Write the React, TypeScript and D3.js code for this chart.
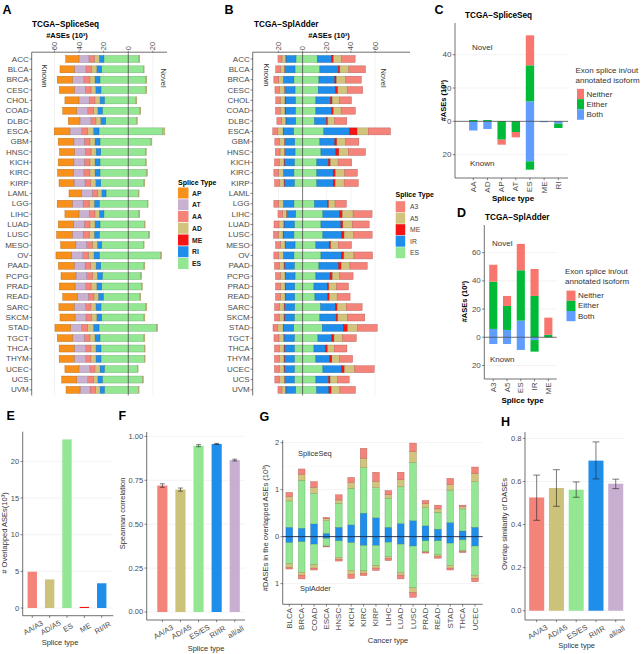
import React, { useEffect, useRef } from "react";
import * as d3 from "d3";

const FONT = "'Liberation Sans', Arial, Helvetica, sans-serif";
const TICK = "#4d4d4d";
const GRID = "#ebebeb";

// ---------- A / B : per cancer type, #ASEs (10^3) ----------
const cancers = ["ACC", "BLCA", "BRCA", "CESC", "CHOL", "COAD", "DLBC", "ESCA", "GBM", "HNSC", "KICH", "KIRC", "KIRP", "LAML", "LGG", "LIHC", "LUAD", "LUSC", "MESO", "OV", "PAAD", "PCPG", "PRAD", "READ", "SARC", "SKCM", "STAD", "TGCT", "THCA", "THYM", "UCEC", "UCS", "UVM"];

// SpliceSeq, known (left)
const aAP = [10.8, 11.6, 12.5, 12.2, 11.4, 11.4, 9.5, 12.8, 12.8, 12.2, 12.8, 12.7, 12.2, 10.3, 12.2, 11.4, 12.2, 12.7, 12.4, 12.8, 12.8, 12.2, 12.8, 12.2, 12.4, 12.2, 12.8, 12.5, 12.2, 12.2, 11.4, 12.2, 11.4];
const aAT = [8.1, 9.5, 9.2, 8.9, 8.4, 8.9, 8.9, 9.5, 8.4, 8.9, 8.4, 8.7, 8.9, 8.6, 8.9, 8.4, 8.9, 8.9, 8.7, 8.9, 8.9, 8.7, 8.7, 8.6, 9.3, 8.9, 8.9, 9.4, 9.3, 9.3, 8.9, 8.9, 8.1];
const aAA = [4.3, 4.6, 4.9, 4.6, 4.6, 4.6, 4.1, 4.9, 4.6, 4.6, 4.6, 4.9, 4.6, 4.1, 4.9, 4.6, 4.6, 4.9, 4.6, 4.6, 4.6, 4.9, 4.3, 4.6, 4.3, 4.6, 4.9, 4.6, 4.3, 4.3, 4.1, 4.6, 4.6];
const aAD = [4.1, 4.1, 4.1, 3.8, 4.1, 3.6, 3.8, 4.6, 4.1, 4.1, 4.1, 4.1, 4.1, 3.6, 4.1, 3.5, 4.1, 4.1, 4.1, 4.6, 4.3, 3.7, 4.6, 3.5, 4.1, 4.1, 4.6, 4.1, 4.1, 4.1, 4.1, 3.6, 3.5];
const aRI = [3.8, 4.1, 4.1, 4.3, 3.5, 3.7, 4.1, 4.6, 4.1, 3.8, 4.1, 4.1, 4.1, 3.5, 4.1, 3.8, 4.1, 4.1, 3.6, 4.3, 3.8, 4.1, 4.1, 4.1, 4.1, 4.1, 4.6, 4.1, 4.1, 4.1, 3.5, 3.7, 3.5];
const aESknown = [19.8, 21.6, 23, 22.2, 19.5, 21.1, 18.4, 23.8, 23, 22.4, 23, 23, 22.4, 18.1, 23.6, 19.8, 23, 23.6, 21.6, 23.6, 22.4, 21.1, 21.6, 20.3, 22.2, 21.6, 23.8, 23, 22.2, 22.2, 19.5, 21.1, 19.5];
// SpliceSeq, novel (right)
const aESnovel = [8.7, 12.2, 14.4, 14.4, 6.3, 9.5, 6.8, 28.2, 18.5, 14.1, 14.1, 15, 12.8, 8.1, 15.4, 8.7, 13, 16.8, 12.2, 26.3, 12.8, 10.3, 10.9, 9.5, 14.4, 12.8, 23.1, 12.8, 13, 13, 7.3, 11.7, 8.1];
const aOtherNovel = [0.7, 0.7, 0.7, 0.7, 0.7, 0.7, 0.7, 1.6, 0.7, 0.7, 0.7, 0.7, 0.7, 0.7, 0.7, 0.7, 0.7, 0.7, 0.7, 0.9, 0.7, 0.7, 0.7, 0.7, 0.7, 0.7, 0.9, 0.7, 0.7, 0.7, 0.7, 0.7, 0.7];

// SplAdder, known (left)
const bA3known = [3.3, 3.9, 3.9, 3.9, 3.6, 3.9, 3.6, 4.1, 3.9, 3.9, 3.9, 3.9, 4.1, 0, 3.9, 3.9, 4.1, 3.9, 3.9, 3.9, 3.9, 3.9, 3.9, 3.9, 3.9, 3.9, 3.9, 4.1, 3.9, 3.9, 3.9, 3.9, 3.3];
const bA5known = [3.0, 3.3, 3.9, 3.9, 3.9, 3.9, 3.6, 4.4, 3.9, 3.6, 3.9, 3.9, 3.6, 0, 3.9, 3.0, 3.9, 3.9, 3.9, 3.9, 3.9, 3.9, 3.9, 3.9, 3.9, 3.9, 4.4, 3.9, 3.9, 3.9, 3.9, 3.9, 2.8];
const bMEknown = [0.3, 0.3, 0.3, 0.3, 0.3, 0.3, 0.3, 0.3, 0.3, 0.3, 0.3, 0.3, 0.3, 0, 0.3, 0.3, 0.3, 0.3, 0.3, 0.3, 0.3, 0.3, 0.3, 0.3, 0.3, 0.3, 0.3, 0.3, 0.3, 0.3, 0.3, 0.3, 0.5];
const bIRknown = [8.3, 8.5, 8.5, 8.5, 8.3, 8.3, 8.0, 8.5, 8.3, 8.5, 8.3, 8.5, 8.3, 0, 8.5, 7.4, 8.5, 8.8, 8.0, 8.5, 8.3, 8.0, 7.7, 7.7, 8.5, 8.3, 8.5, 8.5, 8.3, 8.3, 8.3, 8.0, 8.0];
const bESknown = [5.5, 6.3, 7.2, 6.3, 6.1, 6.1, 5.8, 7.4, 6.6, 6.3, 6.9, 7.2, 6.9, 0, 7.2, 5.8, 6.9, 7.2, 6.3, 7.2, 6.9, 6.3, 6.6, 6.6, 6.6, 6.9, 7.4, 6.9, 6.9, 6.9, 6.9, 6.9, 5.8];
// SplAdder, novel (right)
const bESnovel = [12.1, 14.3, 13.5, 12.9, 11.0, 11.0, 9.9, 17.6, 14.3, 15.2, 11.8, 11.8, 11.8, 0, 9.9, 16.8, 15.2, 16.8, 11.0, 15.2, 13.5, 11.0, 9.4, 10.2, 14.9, 14.3, 16.3, 12.7, 9.4, 11.0, 16.8, 11.0, 11.6];
const bIRnovel = [12.1, 15.2, 13.2, 14.6, 12.1, 12.9, 9.9, 21.5, 12.4, 12.4, 9.6, 13.5, 13.5, 0, 10.7, 14.0, 16.5, 15.7, 11.0, 16.8, 16.3, 11.8, 11.0, 10.7, 12.1, 13.5, 17.4, 11.6, 9.4, 11.6, 15.7, 10.5, 10.2];
const bMEnovel = [1.4, 1.4, 1.4, 1.7, 1.4, 1.7, 1.1, 6.1, 1.7, 2.5, 1.7, 1.9, 1.7, 0, 1.1, 2.2, 1.7, 1.9, 1.4, 2.2, 2.2, 1.9, 1.4, 1.4, 1.7, 1.4, 3.6, 1.7, 1.9, 1.7, 2.2, 1.4, 1.9];
const bA5novel = [6.6, 7.4, 7.7, 7.7, 5.8, 6.3, 5.5, 9.1, 7.2, 7.7, 6.3, 7.7, 7.4, 0, 5.2, 8.8, 7.7, 8.0, 6.1, 8.3, 7.2, 6.1, 6.3, 6.3, 7.4, 8.0, 8.0, 6.9, 5.5, 6.1, 8.3, 6.1, 7.2];
const bA3novel = [11.3, 13.8, 12.9, 12.9, 10.2, 11.8, 10.2, 18.5, 11.0, 14.3, 11.3, 10.5, 11.8, 0, 9.4, 15.7, 14.0, 15.2, 11.0, 15.4, 14.3, 11.0, 9.9, 10.7, 13.2, 14.3, 16.5, 11.6, 10.5, 11.0, 16.3, 9.6, 12.9];

// ---------- C : SpliceSeq by splice type ----------
const cTypes = ["AA", "AD", "AP", "AT", "ES", "ME", "RI"];
const cNovelBoth = [0, 0, 0, 0, 12, 0, 0];
const cNovelEither = [0.8, 0.8, 0, 0, 21.6, 0, 0];
const cNovelNeither = [0, 0, 0, 0, 18, 0, 0];
const cKnownBoth = [5.5, 4.6, 0, 0, 24, 0.5, 1.4];
const cKnownEither = [0, 0, 11, 6.4, 5, 0, 2.6];
const cKnownNeither = [0, 0, 3, 3.2, 0, 0, 0];

// ---------- D : SplAdder by splice type ----------
const dTypes = ["A3", "A5", "ES", "IR", "ME"];
const dNovelBoth = [5.9, 5.2, 11.8, 0, 0];
const dNovelEither = [33.5, 17, 35.7, 29.3, 1.7];
const dNovelNeither = [12, 7.1, 18.7, 19.1, 12.2];
const dKnownBoth = [4.8, 4.8, 9, 2, 0];
const dKnownEither = [0, 0, 0, 8.2, 0];
const dKnownNeither = [0, 0, 0, 0, 0];

// ---------- E / F / H ----------
const eTypes = ["AA/A3", "AD/A5", "ES", "ME", "RI/IR"];
const eOverlap = [4.95, 3.9, 23, 0.15, 3.37];
const fTypes = ["AA/A3", "AD/A5", "ES/ES", "RI/IR", "all/all"];
const fSpearman = [0.72, 0.697, 0.947, 0.957, 0.865];
const fErr = [0.01, 0.009, 0.006, 0.003, 0.005];
const hSimilarity = [0.526, 0.57, 0.562, 0.697, 0.59];
const hLow = [0.42, 0.485, 0.527, 0.612, 0.567];
const hHigh = [0.63, 0.655, 0.598, 0.784, 0.611];

// ---------- G : DASEs in overlapped ASEs (10^3) ----------
const gCancers = ["BLCA", "BRCA", "COAD", "ESCA", "HNSC", "KICH", "KIRC", "KIRP", "LIHC", "LUAD", "LUSC", "PRAD", "READ", "STAD", "THCA", "UCEC"];
const gSsIR = [0.2, 0.18, 0.27, 0.07, 0.2, 0.25, 0.5, 0.4, 0.2, 0.28, 0.34, 0.23, 0.16, 0.3, 0.12, 0.2];
const gSsES = [0.56, 1.02, 0.65, 0.27, 0.51, 0.78, 0.97, 0.64, 0.62, 0.78, 1.24, 0.39, 0.36, 0.69, 0.47, 0.97];
const gSsA5 = [0.09, 0.13, 0.13, 0.04, 0.07, 0.12, 0.2, 0.14, 0.07, 0.15, 0.23, 0.08, 0.07, 0.12, 0.05, 0.18];
const gSsA3 = [0.09, 0.11, 0.12, 0.03, 0.11, 0.11, 0.21, 0.19, 0.09, 0.16, 0.18, 0.07, 0.08, 0.13, 0.03, 0.13];
const gSaIR = [0.13, 0.11, 0.16, 0.04, 0.09, 0.13, 0.19, 0.19, 0.12, 0.16, 0.2, 0.09, 0.09, 0.14, 0.07, 0.2];
const gSaES = [0.45, 0.65, 0.44, 0.16, 0.35, 0.59, 0.54, 0.43, 0.31, 0.6, 0.89, 0.23, 0.3, 0.48, 0.23, 0.62];
const gSaA5 = [0.08, 0.06, 0.07, 0.01, 0.04, 0.08, 0.05, 0.05, 0.03, 0.06, 0.1, 0.01, 0.04, 0.05, 0.02, 0.07];
const gSaA3 = [0.03, 0.08, 0.04, 0.01, 0.04, 0.09, 0.05, 0.05, 0.05, 0.08, 0.1, 0.02, 0.03, 0.04, 0.02, 0.07];

// colours
const cAP = "#F8901C", cAT = "#C9B1D2", cAA = "#F4837A", cAD = "#D2C47C", cME = "#F41414", cRI = "#1F8DEA", cES = "#93E793";
const cLilac = "#C8AFD1";
const cNeither = "#F8766D", cEither = "#00BA38", cBoth = "#619CFF";

function text(g: any, x: number, y: number, s: string, size: number, o: any = {}) {
  const t = g.append("text").attr("x", x).attr("y", y).text(s)
    .attr("font-size", size)
    .attr("font-family", FONT)
    .attr("text-anchor", o.anchor || "start")
    .attr("font-weight", o.weight || "normal")
    .attr("fill", o.fill || "#000")
    .attr("dominant-baseline", o.baseline || "auto");
  if (o.rotate) t.attr("transform", `rotate(${o.rotate},${x},${y})`);
  return t;
}

function line(g: any, x1: number, y1: number, x2: number, y2: number, c = "#333", w = 0.6) {
  g.append("line").attr("x1", x1).attr("y1", y1).attr("x2", x2).attr("y2", y2).attr("stroke", c).attr("stroke-width", w);
}

function segRect(g: any, x: number, y: number, w: number, h: number, c: string) {
  g.append("rect").attr("x", x).attr("y", y).attr("width", Math.max(w, 0)).attr("height", Math.max(h, 0))
    .attr("fill", c).attr("stroke", d3.color(c)!.darker(0.9).toString()).attr("stroke-width", 0.4);
}

// horizontal stack from zero outward
function hStack(g: any, x: any, yc: number, h: number, segs: [number, string][], dir: number) {
  let acc = 0;
  segs.forEach(([v, c]) => {
    if (v <= 0) return;
    const x0 = x(dir * acc), x1 = x(dir * (acc + v));
    segRect(g, Math.min(x0, x1), yc - h / 2, Math.abs(x1 - x0), h, c);
    acc += v;
  });
}

// vertical stack from zero outward
function vStack(g: any, y: any, x0: number, w: number, segs: [number, string][], dir: number, stroke = true) {
  let acc = 0;
  segs.forEach(([v, c]) => {
    if (v <= 0) return;
    const y0 = y(dir * acc), y1 = y(dir * (acc + v));
    if (stroke) segRect(g, x0, Math.min(y0, y1), w, Math.abs(y1 - y0), c);
    else g.append("rect").attr("x", x0).attr("y", Math.min(y0, y1)).attr("width", w).attr("height", Math.abs(y1 - y0)).attr("fill", c);
    acc += v;
  });
}

function panelLetter(g: any, x: number, y: number, s: string) {
  text(g, x, y, s, 12.5, { weight: "bold" });
}

function drawRows(svg: any, opts: any) {
  const g = svg.append("g");
  const { x, left, right, top, bottom, ticks } = opts;
  const y = d3.scaleBand().domain(cancers).range([53.83, 395.05]);
  ticks.filter((t: number) => t !== 0).forEach((t: number) => line(g, x(t), top, x(t), bottom, GRID, 0.6));
  // axes
  line(g, left, top, left, bottom, "#333", 0.7);
  line(g, left, top, right, top, "#333", 0.7);
  ticks.forEach((t: number) => {
    line(g, x(t), top, x(t), top - 1.5, "#333", 0.6);
    text(g, x(t), top - 2, String(Math.abs(t)), 7.5, { rotate: -90, baseline: "central", fill: TICK });
  });
  cancers.forEach((c, i) => {
    const yc = (y(c) as number) + y.bandwidth() / 2;
    line(g, left - 2.2, yc, left, yc, "#333", 0.6);
    text(g, left - 3, yc, c, 8, { anchor: "end", baseline: "central", fill: TICK });
    opts.row(g, yc, i);
  });
  line(g, x(0), top, x(0), bottom, "#444", 0.7);
  return g;
}

function drawA(svg: any) {
  const x = d3.scaleLinear().domain([-78.5, 31.5]).range([31.7, 167]);
  const g = drawRows(svg, {
    x, left: 31.7, right: 167, top: 52.2, bottom: 395.5, ticks: [-60, -40, -20, 0, 20],
    row: (gg: any, yc: number, i: number) => {
      hStack(gg, x, yc, 7, [[aESknown[i], cES], [aRI[i], cRI], [aAD[i], cAD], [aAA[i], cAA], [aAT[i], cAT], [aAP[i], cAP]], -1);
      hStack(gg, x, yc, 7, [[aESnovel[i], cES], [aOtherNovel[i], cAD]], 1);
    },
  });
  panelLetter(g, 2.5, 13.5, "A");
  text(g, 32, 27, "TCGA\u2212SpliceSeq", 8.2, { weight: "bold" });
  text(g, 67, 37.5, "#ASEs (10\u00B3)", 7.5, { weight: "bold", anchor: "middle" });
  text(g, 41.5, 76, "Known", 7.5, { rotate: 90, anchor: "middle", fill: "#333" });
  text(g, 160.5, 78, "Novel", 7.5, { rotate: 90, anchor: "middle", fill: "#333" });
  // legend
  text(g, 178, 185, "Splice Type", 7, { weight: "bold" });
  const keys: [string, string][] = [["AP", cAP], ["AT", cAT], ["AA", cAA], ["AD", cAD], ["ME", cME], ["RI", cRI], ["ES", cES]];
  keys.forEach(([k, c], i) => {
    const yc = 193 + i * 11.75;
    g.append("rect").attr("x", 178).attr("y", yc - 5.5).attr("width", 10.5).attr("height", 11).attr("fill", c);
    text(g, 192, yc, k, 6.8, { weight: "bold", baseline: "central", fill: "#222" });
  });
}

function drawB(svg: any) {
  const x = d3.scaleLinear().domain([-41.3, 88.9]).range([252.7, 410]);
  const g = drawRows(svg, {
    x, left: 252.7, right: 410, top: 52.2, bottom: 395.5, ticks: [-20, 0, 20, 40, 60],
    row: (gg: any, yc: number, i: number) => {
      hStack(gg, x, yc, 7, [[bESknown[i], cES], [bIRknown[i], cRI], [bMEknown[i], cME], [bA5known[i], cAD], [bA3known[i], cAA]], -1);
      hStack(gg, x, yc, 7, [[bESnovel[i], cES], [bIRnovel[i], cRI], [bMEnovel[i], cME], [bA5novel[i], cAD], [bA3novel[i], cAA]], 1);
    },
  });
  panelLetter(g, 224.5, 14, "B");
  text(g, 254, 27, "TCGA\u2212SplAdder", 8.2, { weight: "bold" });
  text(g, 329, 37.5, "#ASEs (10\u00B3)", 7.5, { weight: "bold", anchor: "middle" });
  text(g, 264, 75, "Known", 7.5, { rotate: 90, anchor: "middle", fill: "#333" });
  text(g, 380.5, 78, "Novel", 7.5, { rotate: 90, anchor: "middle", fill: "#333" });
  text(g, 395.5, 196.5, "Splice Type", 7, { weight: "bold" });
  const keys: [string, string][] = [["A3", cAA], ["A5", cAD], ["ME", cME], ["IR", cRI], ["ES", cES]];
  keys.forEach(([k, c], i) => {
    const yc = 206.7 + i * 11.5;
    g.append("rect").attr("x", 395.7).attr("y", yc - 5.5).attr("width", 9.5).attr("height", 11).attr("fill", c);
    text(g, 410, yc, k, 6.8, { baseline: "central", fill: "#444" });
  });
}

function drawTypePanel(svg: any, o: any) {
  const g = svg.append("g");
  const y = d3.scaleLinear().domain(o.yDomain).range([o.bottom, o.top]);
  const x = d3.scaleBand().domain(o.types).range(o.xRange).paddingInner(0.41).paddingOuter(0.205);
  o.ticks.filter((t: number) => t !== 0).forEach((t: number) => line(g, o.left, y(t), o.right, y(t), GRID, 0.6));
  o.types.forEach((t: string, i: number) => {
    const x0 = x(t) as number;
    vStack(g, y, x0, x.bandwidth(), [[o.nb[i], cBoth], [o.ne[i], cEither], [o.nn[i], cNeither]], 1, false);
    vStack(g, y, x0, x.bandwidth(), [[o.kb[i], cBoth], [o.ke[i], cEither], [o.kn[i], cNeither]], -1, false);
    const cx = x0 + x.bandwidth() / 2;
    line(g, cx, o.bottom, cx, o.bottom + 2.2, "#333", 0.6);
    text(g, cx, o.bottom + 3.5, t, 8, { rotate: -90, anchor: "end", baseline: "central", fill: TICK });
  });
  line(g, o.left, y(0), o.right, y(0), "#333", 0.7);
  line(g, o.left, o.top, o.left, o.bottom, "#333", 0.7);
  line(g, o.left, o.bottom, o.right, o.bottom, "#333", 0.7);
  o.ticks.forEach((t: number) => {
    line(g, o.left - 2.2, y(t), o.left, y(t), "#333", 0.6);
    text(g, o.left - 3.5, y(t), String(Math.abs(t)), 8, { anchor: "end", baseline: "central", fill: TICK });
  });
  text(g, o.ytitle[0], o.ytitle[1], "#ASEs (10\u00B3)", 7.5, { weight: "bold", anchor: "middle", rotate: -90 });
  text(g, o.xtitle[0], o.xtitle[1], "Splice type", 8, { weight: "bold", anchor: "middle" });
  text(g, o.novel[0], o.novel[1], "Novel", 8, { fill: "#333" });
  text(g, o.known[0], o.known[1], "Known", 8, { fill: "#333" });
  text(g, o.title[0], o.title[1], o.titleText, 8.2, { weight: "bold" });
  // legend
  const [lx, ly, step, kw] = o.legend;
  text(g, lx, ly, "Exon splice in/out", 8, { fill: "#333", baseline: "central" });
  text(g, lx, ly + 10, "annotated isoform", 8, { fill: "#333", baseline: "central" });
  const keys: [string, string][] = [["Neither", cNeither], ["Either", cEither], ["Both", cBoth]];
  keys.forEach(([k, c], i) => {
    const yc = ly + 24 + i * step;
    g.append("rect").attr("x", lx + 1.5).attr("y", yc - step / 2).attr("width", kw).attr("height", step).attr("fill", c);
    text(g, lx + kw + 4, yc, k, 8, { baseline: "central", fill: "#333" });
  });
  return g;
}

function drawC(svg: any) {
  const g = drawTypePanel(svg, {
    types: cTypes, yDomain: [-34, 59], top: 23, bottom: 178, left: 455, right: 568, xRange: [466.2, 565.4],
    ticks: [-20, 0, 20, 40], nb: cNovelBoth, ne: cNovelEither, nn: cNovelNeither, kb: cKnownBoth, ke: cKnownEither, kn: cKnownNeither,
    ytitle: [445.5, 100.5], xtitle: [513, 200.5], novel: [472, 49.5], known: [470, 165.5],
    title: [465, 18], titleText: "TCGA\u2212SpliceSeq", legend: [575.5, 70, 10.3, 7],
  });
  panelLetter(g, 434.5, 13.5, "C");
}

function drawD(svg: any) {
  const g = drawTypePanel(svg, {
    types: dTypes, yDomain: [-29.6, 79.6], top: 225, bottom: 379, left: 484.3, right: 556.7, xRange: [486.4, 555.2],
    ticks: [-20, 0, 20, 40, 60], nb: dNovelBoth, ne: dNovelEither, nn: dNovelNeither, kb: dKnownBoth, ke: dKnownEither, kn: dKnownNeither,
    ytitle: [467, 301.5], xtitle: [522.5, 402.5], novel: [492, 245.5], known: [490, 362],
    title: [485, 220], titleText: "TCGA\u2212SplAdder", legend: [565, 271.7, 10.2, 9],
  });
  panelLetter(g, 457, 217, "D");
}

function barAxes(g: any, o: any) {
  const { y, left, right, top, bottom, ticks, fmt } = o;
  ticks.forEach((t: number) => line(g, left, y(t), right, y(t), GRID, 0.6));
  (o.minor || []).forEach((t: number) => line(g, left, y(t), right, y(t), "#f3f3f3", 0.5));
  line(g, left, top, left, bottom, "#333", 0.7);
  line(g, left, bottom, right, bottom, "#333", 0.7);
  ticks.forEach((t: number) => {
    line(g, left - 2.2, y(t), left, y(t), "#333", 0.6);
    text(g, left - 3.5, y(t), fmt(t), 7.5, { anchor: "end", baseline: "central", fill: TICK });
  });
}

function simpleBars(svg: any, o: any) {
  const g = svg.append("g");
  const y = d3.scaleLinear().domain(o.yDomain).range([o.bottom, o.top]);
  const x = d3.scaleBand().domain(o.types).range(o.xRange).paddingInner(o.pad).paddingOuter(o.pad / 2);
  barAxes(g, { y, left: o.left, right: o.right, top: o.top, bottom: o.bottom, ticks: o.ticks, fmt: o.fmt });
  o.types.forEach((t: string, i: number) => {
    const x0 = x(t) as number, cx = x0 + x.bandwidth() / 2;
    g.append("rect").attr("x", x0).attr("y", y(o.values[i])).attr("width", x.bandwidth())
      .attr("height", y(0) - y(o.values[i])).attr("fill", o.colors[i]);
    if (o.lo) {
      const y1 = y(o.lo[i]), y2 = y(o.hi[i]);
      line(g, cx, y1, cx, y2, "#222", 0.6);
      line(g, cx - o.cap, y1, cx + o.cap, y1, "#222", 0.6);
      line(g, cx - o.cap, y2, cx + o.cap, y2, "#222", 0.6);
    }
    line(g, cx, o.bottom, cx, o.bottom + 2.2, "#333", 0.6);
    text(g, cx + 1, o.bottom + 12, t, 7.5, { anchor: "middle", baseline: "central", rotate: -30, fill: TICK });
  });
  text(g, o.ytitle[0], o.ytitle[1], o.ytitleText, 7.5, { anchor: "middle", rotate: -90, fill: "#333" });
  text(g, o.xtitle[0], o.xtitle[1], "Splice type", 7.5, { anchor: "middle", fill: "#333" });
  return g;
}

function drawE(svg: any) {
  const g = simpleBars(svg, {
    types: eTypes, values: eOverlap, colors: [cAA, "#CDC27A", cES, cME, cRI],
    yDomain: [-1.05, 24.05], top: 431.7, bottom: 615.7, left: 22.7, right: 113.3, xRange: [23.6, 110.4], pad: 0.46,
    ticks: [0, 5, 10, 15, 20], fmt: (t: number) => String(t),
    ytitle: [7, 533], ytitleText: "# Overlapped ASEs(10\u00B3)", xtitle: [60, 645],
  });
  panelLetter(g, 6.5, 420, "E");
}

function drawF(svg: any) {
  const g = simpleBars(svg, {
    types: fTypes, values: fSpearman, colors: [cAA, "#CDC27A", cES, cRI, cLilac],
    lo: fSpearman.map((v, i) => v - fErr[i]), hi: fSpearman.map((v, i) => v + fErr[i]), cap: 2.4,
    yDomain: [-0.0456, 1.025], top: 432, bottom: 620, left: 146.7, right: 245, xRange: [153.3, 243.8], pad: 0.44,
    ticks: [0, 0.25, 0.5, 0.75, 1], fmt: (t: number) => t.toFixed(2),
    ytitle: [124.5, 513.5], ytitleText: "Spearman correlation", xtitle: [206, 650.5],
  });
  panelLetter(g, 118.5, 420, "F");
}

function drawH(svg: any) {
  const g = simpleBars(svg, {
    types: fTypes, values: hSimilarity, colors: [cAA, "#CDC27A", cES, cRI, cLilac],
    lo: hLow, hi: hHigh, cap: 3.4,
    yDomain: [-0.043, 0.83], top: 432, bottom: 620, left: 525, right: 625, xRange: [526.8, 625.6], pad: 0.24,
    ticks: [0, 0.2, 0.4, 0.6, 0.8], fmt: (t: number) => t.toFixed(1),
    ytitle: [507, 524], ytitleText: "Overlap similarity of DASEs", xtitle: [576.7, 648],
  });
  panelLetter(g, 501, 426, "H");
}

function drawG(svg: any) {
  const g = svg.append("g");
  const top = 440.3, bottom = 604.3, left = 282.7, right = 482.7;
  const y = d3.scaleLinear().domain([-1.44, 2.05]).range([bottom, top]);
  const x = d3.scaleBand().domain(gCancers).range([283.1, 481.2]).paddingInner(0.46).paddingOuter(0.23);
  barAxes(g, { y, left, right, top, bottom, ticks: [-1, 0, 1, 2], fmt: (t: number) => String(Math.abs(t)), minor: [-0.5, 0.5, 1.5] });
  gCancers.forEach((c, i) => {
    const x0 = x(c) as number, cx = x0 + x.bandwidth() / 2;
    vStack(g, y, x0, x.bandwidth(), [[gSsIR[i], cRI], [gSsES[i], cES], [gSsA5[i], cAD], [gSsA3[i], cAA]], 1);
    vStack(g, y, x0, x.bandwidth(), [[gSaIR[i], cRI], [gSaES[i], cES], [gSaA5[i], cAD], [gSaA3[i], cAA]], -1);
    line(g, cx, bottom, cx, bottom + 2.2, "#333", 0.6);
    text(g, cx, bottom + 3.5, c, 8, { rotate: -90, anchor: "end", baseline: "central", fill: TICK });
  });
  line(g, left, y(0), right, y(0), "#1a2a4a", 0.9);
  text(g, 298, 455.5, "SpliceSeq", 7.5, { fill: "#333" });
  text(g, 300, 591, "SplAdder", 7.5, { fill: "#333" });
  text(g, 268, 528, "#DASEs in the overlapped ASEs (10\u00B3)", 7.5, { anchor: "middle", rotate: -90, fill: "#333" });
  text(g, 388, 643, "Cancer type", 7.5, { anchor: "middle", fill: "#333" });
  panelLetter(g, 259.5, 420.5, "G");
}

export default function App() {
  const svgRef = useRef<SVGSVGElement>(null);

  useEffect(() => {
    const svg = d3.select(svgRef.current);
    svg.selectAll("*").remove();
    svg.append("rect").attr("width", 642).attr("height", 654).attr("fill", "#fff");
    drawA(svg);
    drawB(svg);
    drawC(svg);
    drawD(svg);
    drawE(svg);
    drawF(svg);
    drawG(svg);
    drawH(svg);
  }, []);

  return (
    <svg
      ref={svgRef}
      width={642}
      height={654}
      style={{ position: "absolute", left: 0, top: 0, fontFamily: FONT }}
    />
  );
}
